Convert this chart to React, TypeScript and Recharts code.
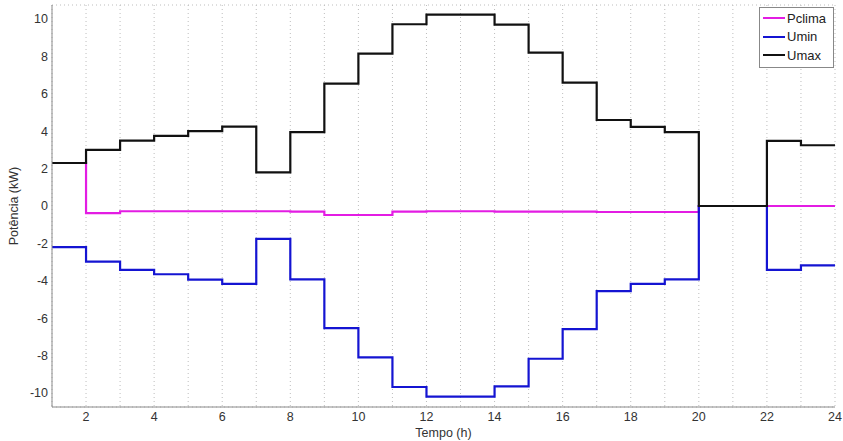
import React from 'react';
import { LineChart, Line, XAxis, YAxis, CartesianGrid, Legend } from 'recharts';

// hourly values, step held until the next hour (last point repeats hour 23)
const hours = [1, 2, 3, 4, 5, 6, 7, 8, 9, 10, 11, 12, 13, 14, 15, 16, 17, 18, 19, 20, 21, 22, 23, 24];
const pclima = [2.3, -0.38, -0.28, -0.28, -0.28, -0.28, -0.28, -0.3, -0.48, -0.48, -0.3, -0.28, -0.28, -0.3, -0.3, -0.3, -0.32, -0.32, -0.32, 0, 0, 0, 0, 0];
const umin = [-2.2, -2.97, -3.42, -3.65, -3.94, -4.17, -1.76, -3.92, -6.53, -8.1, -9.68, -10.2, -10.2, -9.65, -8.17, -6.58, -4.55, -4.16, -3.92, 0, 0, -3.42, -3.18, -3.18];
const umax = [2.3, 3.0, 3.5, 3.75, 4.0, 4.25, 1.8, 3.95, 6.55, 8.15, 9.72, 10.23, 10.23, 9.7, 8.2, 6.6, 4.6, 4.23, 3.95, 0, 0, 3.48, 3.25, 3.25];

const xTicks = [2, 4, 6, 8, 10, 12, 14, 16, 18, 20, 22, 24];
const yTicks = [-10, -8, -6, -4, -2, 0, 2, 4, 6, 8, 10];

const series = [
  { key: 'Pclima', color: '#e31ce3' },
  { key: 'Umin', color: '#1414d2' },
  { key: 'Umax', color: '#111111' },
];

const data = hours.map((h, i) => ({ hour: h, Pclima: pclima[i], Umin: umin[i], Umax: umax[i] }));

const FONT = '"Liberation Sans", Arial, sans-serif';
const AXIS = '#8a8a8a';

function LegendBox() {
  return (
    <div style={{ border: '1px solid #888', background: '#fff', padding: '1px 3px 2px 3px', fontFamily: FONT, fontSize: 13, color: '#222' }}>
      {series.map(s => (
        <div key={s.key} style={{ display: 'flex', alignItems: 'center', height: 18.5 }}>
          <span style={{ display: 'inline-block', width: 22, height: 2, background: s.color, marginRight: 2 }} />
          <span>{s.key}</span>
        </div>
      ))}
    </div>
  );
}

export default function App() {
  return (
    <div style={{ position: 'absolute', left: 0, top: 0, background: '#fff' }}>
      <LineChart width={843} height={441} data={data} margin={{ top: 5, right: 8, bottom: 0, left: 0 }}>
        <CartesianGrid stroke="#bdbdbd" strokeDasharray="1 3" />
        <XAxis
          xAxisId="b"
          dataKey="hour"
          type="number"
          domain={[1, 24]}
          ticks={xTicks}
          height={34}
          stroke={AXIS}
          tickLine={false}
          tickSize={0}
          tickMargin={5}
          tick={{ fill: '#333', fontSize: 12.5, fontFamily: FONT }}
          label={{ value: 'Tempo (h)', position: 'insideBottom', offset: 4, fill: '#333', fontSize: 12.5, fontFamily: FONT }}
        />
        <XAxis xAxisId="t" dataKey="hour" type="number" domain={[1, 24]} orientation="top" height={0} stroke={AXIS} tick={false} tickLine={false} />
        <YAxis
          yAxisId="l"
          type="number"
          domain={[-10.75, 10.75]}
          ticks={yTicks}
          width={52}
          stroke={AXIS}
          tickLine={false}
          tickSize={0}
          tickMargin={4}
          tick={{ fill: '#333', fontSize: 12.5, fontFamily: FONT }}
          label={{ value: 'Potência (kW)', angle: -90, position: 'insideLeft', offset: 14, fill: '#333', fontSize: 12.5, fontFamily: FONT, style: { textAnchor: 'middle' } }}
        />
        <YAxis yAxisId="r" orientation="right" type="number" domain={[-10.75, 10.75]} width={0} stroke={AXIS} tick={false} tickLine={false} />
        <Legend
          layout="horizontal"
          align="center"
          verticalAlign="middle"
          wrapperStyle={{ top: 7, left: 759, width: 75 }}
          content={() => <LegendBox />}
        />
        {series.map(s => (
          <Line
            key={s.key}
            xAxisId="b"
            yAxisId="l"
            type="stepAfter"
            dataKey={s.key}
            stroke={s.color}
            strokeWidth={2.2}
            dot={false}
            activeDot={false}
            isAnimationActive={false}
          />
        ))}
      </LineChart>
    </div>
  );
}
